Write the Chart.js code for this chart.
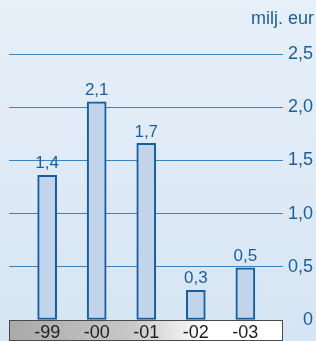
<!DOCTYPE html>
<html>
<head>
<meta charset="utf-8">
<script src="https://cdn.jsdelivr.net/npm/chart.js@4/dist/chart.umd.min.js"></script>
<style>
  html, body { margin: 0; padding: 0; }
  body { width: 316px; height: 341px; overflow: hidden;
    background: linear-gradient(180deg, #e6f0f9 0%, #dde9f5 60%, #d6e5f3 100%); }
  #wrap { position: relative; width: 316px; height: 341px; }
</style>
</head>
<body>
<div id="wrap"><canvas id="chart" width="316" height="341"></canvas></div>
<script>
const years = ['-99', '-00', '-01', '-02', '-03'];
const values = [1.36, 2.05, 1.66, 0.28, 0.49];
const valueLabels = ['1,4', '2,1', '1,7', '0,3', '0,5'];
const yTicks = [0, 0.5, 1.0, 1.5, 2.0, 2.5];
const unit = 'milj. eur';

const BLUE = '#1a5f9f';
const LINE = '#3a84c2';
const FONT = '"Liberation Sans", Arial, sans-serif';

// gray band under the bars + unit label
const decor = {
  id: 'decor',
  beforeDraw(chart) {
    const { ctx, chartArea } = chart;
    const x0 = chartArea.left, x1 = chartArea.right;
    const y0 = chartArea.bottom, h = 20;
    const g = ctx.createLinearGradient(x0, 0, x1, 0);
    g.addColorStop(0, '#a9a9a9');
    g.addColorStop(0.45, '#c8c8c8');
    g.addColorStop(0.72, '#ffffff');
    g.addColorStop(1, '#ffffff');
    ctx.save();
    ctx.fillStyle = g;
    ctx.fillRect(x0, y0, x1 - x0, h);
    ctx.strokeStyle = '#4a4a4a';
    ctx.lineWidth = 1;
    ctx.strokeRect(x0 + 0.5, y0 + 0.5, x1 - x0 - 1, h);
    ctx.restore();
  },
  afterDraw(chart) {
    const { ctx } = chart;
    ctx.save();
    ctx.fillStyle = BLUE;
    ctx.font = '18px ' + FONT;
    ctx.textAlign = 'right';
    ctx.textBaseline = 'middle';
    ctx.fillText(unit, 314, 19);
    // value labels above the bars
    const meta = chart.getDatasetMeta(0);
    ctx.font = '17px ' + FONT;
    ctx.textAlign = 'center';
    ctx.textBaseline = 'bottom';
    meta.data.forEach((bar, i) => {
      ctx.fillText(valueLabels[i], bar.x, bar.y - 3);
    });
    ctx.restore();
  }
};

new Chart(document.getElementById('chart'), {
  type: 'bar',
  data: {
    datasets: [{
      data: values.map((v, i) => ({ x: i, y: v })),
      backgroundColor: '#c2d4e9',
      borderColor: '#125fa3',
      borderWidth: 2,
      borderSkipped: false,
      barThickness: 19
    }]
  },
  options: {
    responsive: false,
    animation: false,
    layout: { padding: { left: 9, top: 54, right: 3, bottom: 0 } },
    plugins: { legend: { display: false }, tooltip: { enabled: false } },
    scales: {
      x: {
        type: 'linear',
        offset: false,
        min: -0.77,
        max: 4.76,
        grid: { display: false, drawTicks: false, tickLength: 0, offset: false },
        border: { display: false },
        afterBuildTicks: s => { s.ticks = years.map((_, i) => ({ value: i })); },
        afterFit: s => { s.height = 21; },
        ticks: {
          padding: 2,
          autoSkip: false,
          maxRotation: 0,
          color: '#222',
          font: { family: FONT, size: 18 },
          callback: v => years[v]
        }
      },
      y: {
        position: 'right',
        min: 0,
        max: 2.5,
        afterBuildTicks: s => { s.ticks = yTicks.map(v => ({ value: v })); },
        afterFit: s => { s.width = 30; },
        grid: {
          color: ctx => ctx.tick && ctx.tick.value === 0 ? 'rgba(0,0,0,0)' : LINE,
          lineWidth: 1,
          drawTicks: false,
          tickLength: 0
        },
        border: { display: false },
        ticks: {
          padding: 2,
          crossAlign: 'far',
          color: BLUE,
          font: { family: FONT, size: 18 },
          callback: v => v === 0 ? '0' : v.toFixed(1).replace('.', ',')
        }
      }
    }
  },
  plugins: [decor]
});
</script>
</body>
</html>
